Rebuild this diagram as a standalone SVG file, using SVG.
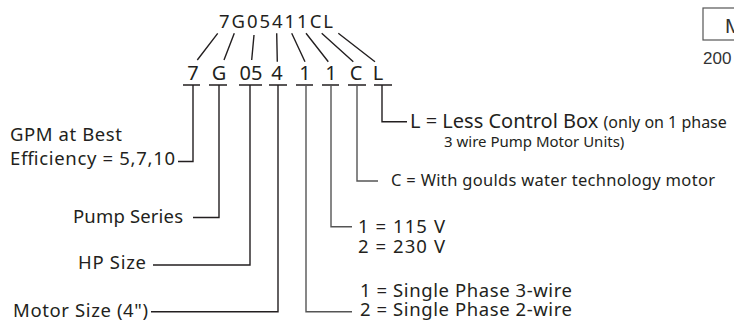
<svg xmlns="http://www.w3.org/2000/svg" width="734" height="321" viewBox="0 0 734 321">
<style>
text{font-family:"Noto Sans","Open Sans",sans-serif;fill:#231f20}
.lbl{font-size:18.5px}
.big{font-size:18.5px}
.code{font-size:20px;text-anchor:middle}
.sm{font-size:15px}
.c{stroke:#231f20;stroke-width:1.4;fill:none}
.g{stroke:#555;stroke-width:1.4;fill:none}
.ar{font-family:"Liberation Sans",Arial,sans-serif;fill:#333}
</style>
<rect width="734" height="321" fill="#fff"/>
<g id="header">
<rect x="703" y="8" width="40" height="32" fill="none" stroke="#555" stroke-width="1.2"/>
<text class="ar" x="725" y="33" font-size="21">M</text>
<text class="ar" x="703" y="64" font-size="17">200</text>
</g>
<g id="code-top"><text x="219" y="28" font-size="18.5" textLength="114" lengthAdjust="spacing">7G05411CL</text></g>
<g id="code-bottom">
<text class="code" x="193" y="80">7</text>
<text class="code" x="219" y="80">G</text>
<text class="code" x="251" y="80">05</text>
<text class="code" x="277" y="80">4</text>
<text class="code" x="305" y="80">1</text>
<text class="code" x="331" y="80">1</text>
<text class="code" x="356" y="80">C</text>
<text class="code" x="378" y="80">L</text>
</g>
<g id="connectors">
<path class="c" d="M217.7 33.3L197.3 60M234.3 33.3L224 60M254 35L251.7 60M276.7 33.3L277.3 61.7M291.7 33.3L305 61.7M306 33.3L328.3 61.7M321.7 33.3L353.3 61.7M338.3 33.3L375 61.7"/>
<path class="c" d="M183 85H200M209 85H227M239 85H262M269 85H287M296 85H313M322 85H339M348 85H366M374 85H392"/>
<path class="c" d="M193 85V161.5H178"/>
<path class="c" d="M219 85V217.5H193"/>
<path class="c" d="M250 85V265H153"/>
<path class="c" d="M278 85V311.7H151"/>
<path class="g" d="M306 85V311.7H352"/>
<path class="g" d="M331 85V226.7H352"/>
<path class="g" d="M357 85V181H378"/>
<path class="c" d="M382 85V121.7H407"/>
</g>
<g id="gpm"><text class="lbl" x="10" y="141" textLength="112" lengthAdjust="spacing">GPM at Best</text><text class="lbl" x="10" y="165" textLength="165" lengthAdjust="spacing">Efficiency = 5,7,10</text></g>
<g id="series"><text class="lbl" x="73" y="222.5" textLength="110" lengthAdjust="spacing">Pump Series</text></g>
<g id="hp"><text class="lbl" x="78" y="269" textLength="68" lengthAdjust="spacing">HP Size</text></g>
<g id="motor"><text class="lbl" x="13" y="317" textLength="135" lengthAdjust="spacing">Motor Size (4")</text></g>
<g id="phase"><text class="big" x="360" y="296.5" textLength="212" lengthAdjust="spacing">1 = Single Phase 3-wire</text><text class="big" x="360" y="316" textLength="212" lengthAdjust="spacing">2 = Single Phase 2-wire</text></g>
<g id="volt"><text class="big" x="358" y="233" textLength="87" lengthAdjust="spacing">1 = 115 V</text><text class="big" x="358" y="253" textLength="87" lengthAdjust="spacing">2 = 230 V</text></g>
<g id="cmotor"><text x="391" y="186" font-size="16.5" textLength="324" lengthAdjust="spacing">C = With goulds water technology motor</text></g>
<g id="lbox"><text x="410" y="128"><tspan font-size="20">L = Less Control Box </tspan><tspan font-size="16">(only on 1 phase</tspan></text><text class="sm" x="444" y="147">3 wire Pump Motor Units)</text></g>
</svg>
